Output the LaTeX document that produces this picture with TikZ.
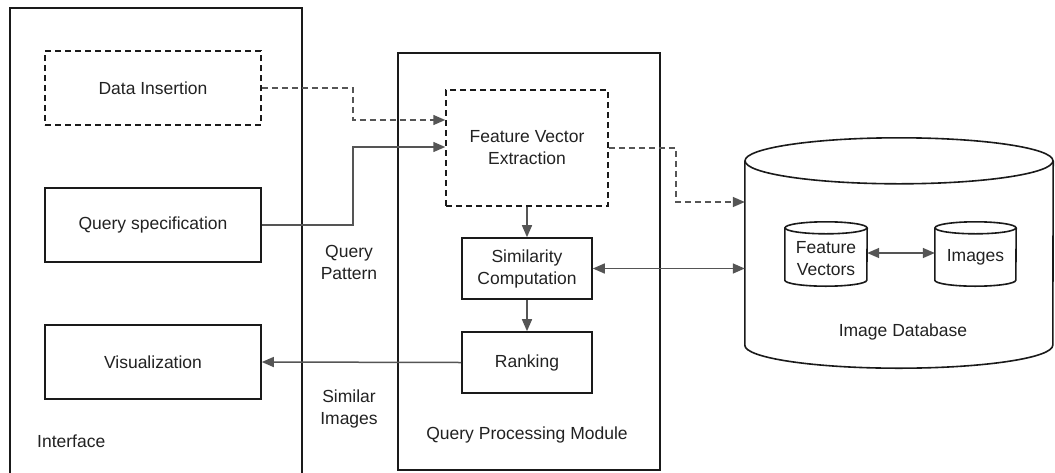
\documentclass[tikz,border=0pt]{standalone}
\usepackage{fontspec}
\setmainfont{Liberation Sans}
\usetikzlibrary{arrows.meta,calc}
\definecolor{txt}{HTML}{222222}
\definecolor{arr}{HTML}{555555}
\definecolor{edge}{HTML}{1A1A1A}
\tikzset{
  x=1pt,y=1pt,
  every node/.style={font=\fontsize{17.5}{22}\selectfont, text=txt, align=center, inner sep=0pt},
  box/.style={draw=edge, line width=1.6pt, rectangle},
  dbox/.style={draw=edge, line width=1.5pt, rectangle, dash pattern=on 6pt off 4pt},
  cont/.style={draw=edge, line width=1.6pt, rectangle, anchor=north west},
  conn/.style={draw=arr, line width=1.5pt, -{Triangle[length=12pt,width=10pt]}},
  dconn/.style={conn, dash pattern=on 6pt off 4pt},
  biconn/.style={draw=arr, line width=1.5pt, {Triangle[length=12pt,width=10pt]}-{Triangle[length=12pt,width=10pt]}},
  cyl/.style={draw=edge, line width=1.6pt},
}
\begin{document}
\begin{tikzpicture}
\useasboundingbox (0,0) rectangle (1055,-472);
\fill[white] (0,0) rectangle (1055,-472);
% containers
\node[cont, minimum width=292, minimum height=490] (iface) at (9,-7) {};
\node[cont, minimum width=262, minimum height=417] (qpm) at (397,-52) {};
\node[anchor=west] (ifacelbl) at (37,-441) {Interface};
\node (qpmlbl) at (527,-435) {Query Processing Module};
% interface boxes
\node[dbox, minimum width=216, minimum height=74] (di) at (153,-88) {Data Insertion};
\node[box, minimum width=216, minimum height=74] (qs) at (153,-225) {Query specification};
\node[box, minimum width=216, minimum height=74] (vis) at (153,-362) {Visualization};
% processing boxes
\node[dbox, minimum width=162, minimum height=116] (fve) at (527,-148) {Feature Vector\\Extraction};
\node[box, minimum width=130, minimum height=61] (sim) at (527,-268.5) {Similarity\\Computation};
\node[box, minimum width=130, minimum height=61] (rank) at (527,-362.5) {Ranking};
% labels
\node (qp) at (349,-262) {Query\\Pattern};
\node (si) at (349,-409) {Similar\\Images};
% database
\node[minimum width=308, minimum height=184] (db) at (899,-253) {};
\draw[cyl] (db.north west) -- (db.south west) arc[start angle=180, end angle=360, x radius=154pt, y radius=23pt] -- (db.north east);
\draw[cyl] (db.north) ellipse[x radius=154pt, y radius=23pt];
\node (dblbl) at (903,-332) {Image Database};
\node[minimum width=82, minimum height=52] (fv) at (826,-254) {};
\draw[cyl] (fv.north west) -- (fv.south west) arc[start angle=180, end angle=360, x radius=41pt, y radius=6pt] -- (fv.north east);
\draw[cyl] (fv.north) ellipse[x radius=41pt, y radius=6pt];
\node (fvlbl) at (826,-258.5) {Feature\\Vectors};
\node[minimum width=81, minimum height=52] (img) at (975.5,-254) {};
\draw[cyl] (img.north west) -- (img.south west) arc[start angle=180, end angle=360, x radius=40.5pt, y radius=6pt] -- (img.north east);
\draw[cyl] (img.north) ellipse[x radius=40.5pt, y radius=6pt];
\node (imglbl) at (975.5,-257) {Images};
% connectors
\coordinate (b1) at (353,-88);
\coordinate (b2) at (353,-120);
\draw[dconn] (di.east) -- (b1) -- (b2) -- ([yshift=28pt]fve.west);
\coordinate (b3) at (353,-225);
\coordinate (b4) at (353,-147);
\draw[conn] (qs.east) -- (b3) -- (b4) -- ([yshift=1pt]fve.west);
\coordinate (b5) at (676,-148);
\coordinate (b6) at (676,-202);
\draw[dconn] (fve.east) -- (b5) -- (b6) -- ([yshift=51pt]db.west);
\draw[conn] (fve.south) -- (sim.north);
\draw[biconn] (sim.east) -- ([yshift=-15.5pt]db.west);
\draw[conn] (sim.south) -- (rank.north);
\draw[conn] (rank.west) -- (vis.east);
\draw[biconn] ([yshift=1pt]fv.east) -- ([yshift=1pt]img.west);
\end{tikzpicture}
\end{document}
